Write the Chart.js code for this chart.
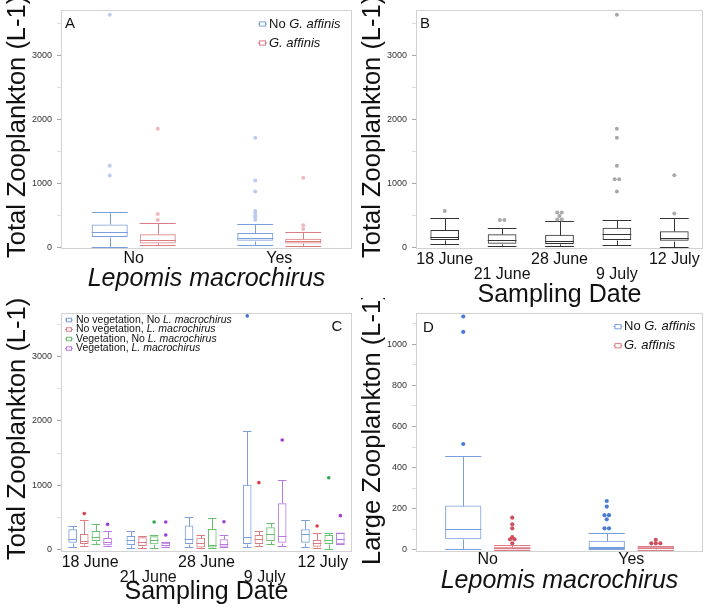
<!DOCTYPE html>
<html>
<head>
<meta charset="utf-8">
<script src="https://cdn.jsdelivr.net/npm/chart.js@4.4.1/dist/chart.umd.min.js"></script>
<style>
  html, body { margin: 0; padding: 0; background: #fff; }
  body { width: 709px; height: 608px; position: relative; overflow: hidden; }
  canvas { position: absolute; }
</style>
</head>
<body>
<canvas id="chartA" width="360" height="305" style="left:0;top:0"></canvas>
<canvas id="chartB" width="354" height="310" style="left:355px;top:0"></canvas>
<canvas id="chartC" width="360" height="310" style="left:0;top:298px"></canvas>
<canvas id="chartD" width="354" height="310" style="left:355px;top:298px"></canvas>
<script>
// five-number summaries: [lower whisker, Q1, median, Q3, upper whisker]
const fishCats = ['No', 'Yes'];
const dates = ['18 June', '21 June', '28 June', '9 July', '12 July'];

// A - total zooplankton by L. macrochirus, split by G. affinis
const aNoGaffinis = [[0, 156, 229, 354, 552], [36, 99, 135, 219, 359]];
const aNoGaffinisOut = [[1120, 1270, 3636], [425, 465, 495, 535, 565, 870, 1040, 1710]];
const aGaffinis = [[31, 57, 104, 198, 375], [21, 57, 94, 130, 240]];
const aGaffinisOut = [[422, 516, 1850], [281, 339, 1083]];

// B - total zooplankton by date
const bAll = [[47, 109, 151, 266, 458], [21, 52, 104, 198, 297], [21, 47, 94, 193, 401], [31, 109, 198, 302, 417], [5, 99, 135, 245, 453]];
const bAllOut = [[562], [422, 422], [432, 432, 484, 542, 542], [870, 1060, 1060, 1270, 1710, 1850, 3636], [526, 1125]];

// C - total zooplankton by date and treatment
const cNoVegNoLm = [[42, 104, 166, 312, 358], [26, 67, 151, 208, 291], [42, 83, 161, 369, 498], [31, 83, 197, 1006, 1837], [31, 104, 233, 311, 451]];
const cNoVegNoLmOut = [[], [], [], [3636], []];
const cNoVegLm = [[52, 83, 130, 239, 457], [16, 52, 119, 187, 213], [20, 30, 95, 180, 225], [57, 83, 166, 223, 285], [26, 41, 93, 145, 249]];
const cNoVegLmOut = [[556], [], [], [1038], [363]];
const cVegNoLm = [[78, 130, 197, 286, 389], [26, 78, 151, 203, 223], [20, 30, 60, 315, 495], [83, 130, 239, 342, 415], [5, 83, 150, 223, 260]];
const cVegNoLmOut = [[], [426], [], [], [1115]];
const cVegLm = [[52, 62, 109, 177, 286], [31, 47, 73, 104, 110], [31, 41, 88, 155, 228], [57, 104, 207, 716, 1074], [78, 78, 155, 260, 260]];
const cVegLmOut = [[389], [223, 426], [430], [1702], [524]];

// D - large zooplankton
const dNoGaffinis = [[3, 52, 100, 216, 457], [3, 5, 16, 45, 81]];
const dNoGaffinisOut = [[515, 1060, 1135], [105, 105, 149, 169, 169, 211, 238]];
const dGaffinis = [[0, 0, 8, 16, 24], [0, 3, 8, 16, 19]];
const dGaffinisOut = [[32, 52, 52, 62, 105, 125, 157], [32, 32, 32, 49]];

// y ticks (empty label = minor tick)
const totalTicks = [0, 500, 1000, 1500, 2000, 2500, 3000, 3500];
const totalTickLabels = ['0', '', '1000', '', '2000', '', '3000', ''];
const largeTicks = [0, 100, 200, 300, 400, 500, 600, 700, 800, 900, 1000, 1100];
const largeTickLabels = ['0', '', '200', '', '400', '', '600', '', '800', '', '1000', ''];

const FONT = "'Liberation Sans', Arial, Helvetica, sans-serif";
const BLUE = '#7a9fdc', RED = '#dc7e85', GREEN = '#6cc072', PURPLE = '#b87ae0';

const boxPlugin = {
  id: 'boxes',
  afterDatasetsDraw(chart) {
    const ctx = chart.ctx;
    const y = chart.scales.y;
    chart.data.datasets.forEach((ds, i) => {
      const meta = chart.getDatasetMeta(i);
      meta.data.forEach((bar, j) => {
        const s = ds.stats[j];
        const x = Math.round(bar.x) + 0.5;
        const half = bar.width / 2;
        const py = v => Math.round(y.getPixelForValue(v)) + 0.5;
        ctx.save();
        ctx.strokeStyle = ds.borderColor;
        ctx.lineWidth = 1;
        ctx.beginPath();
        ctx.moveTo(x, py(s[3])); ctx.lineTo(x, py(s[4]));
        ctx.moveTo(x, py(s[1])); ctx.lineTo(x, py(s[0]));
        ctx.moveTo(bar.x - half, py(s[4])); ctx.lineTo(bar.x + half, py(s[4]));
        ctx.moveTo(bar.x - half, py(s[0])); ctx.lineTo(bar.x + half, py(s[0]));
        ctx.moveTo(bar.x - half, py(s[2])); ctx.lineTo(bar.x + half, py(s[2]));
        ctx.stroke();
        // outliers, repeated values sit side by side
        const outs = ds.outliers[j] || [];
        const counts = {}, seen = {};
        outs.forEach(v => counts[v] = (counts[v] || 0) + 1);
        ctx.fillStyle = ds.outlierColor;
        outs.forEach(v => {
          seen[v] = (seen[v] || 0) + 1;
          const dx = (seen[v] - 1 - (counts[v] - 1) / 2) * 4.5;
          ctx.beginPath();
          ctx.arc(bar.x + dx, y.getPixelForValue(v), ds.outlierRadius, 0, Math.PI * 2);
          ctx.fill();
        });
        ctx.restore();
      });
    });
  }
};

const decorPlugin = {
  id: 'decor',
  afterDraw(chart, args, opts) {
    const ctx = chart.ctx;
    const a = chart.chartArea;
    ctx.save();
    ctx.strokeStyle = '#d2d2d2';
    ctx.lineWidth = 1;
    ctx.strokeRect(Math.round(a.left) + 0.5, Math.round(a.top) + 0.5, Math.round(a.right - a.left) - 1, Math.round(a.bottom - a.top) - 1);
    // y axis title, running up from its start point
    ctx.save();
    ctx.translate(opts.yTitleX, opts.yTitleY);
    ctx.rotate(-Math.PI / 2);
    ctx.fillStyle = '#111';
    ctx.font = '25.5px ' + FONT;
    ctx.textAlign = 'left';
    ctx.textBaseline = 'alphabetic';
    ctx.fillText(opts.yTitle, 0, 0);
    ctx.restore();
    // panel letter
    ctx.fillStyle = '#111';
    ctx.font = '15px ' + FONT;
    ctx.textBaseline = 'middle';
    ctx.textAlign = opts.letterAlign || 'left';
    ctx.fillText(opts.letter, opts.letterX, opts.letterY);
    // legend
    const lg = opts.legend;
    ctx.textAlign = 'left';
    lg.items.forEach((it, k) => {
      const ly = lg.rowY[k];
      const ix = lg.iconX;
      const w = lg.iconW;
      ctx.strokeStyle = it.color;
      ctx.beginPath();
      ctx.moveTo(ix - w / 2 - 1.5, ly); ctx.lineTo(ix + w / 2 + 1.5, ly);
      ctx.stroke();
      ctx.fillStyle = '#fff';
      ctx.fillRect(ix - w / 2, ly - w * 0.35, w, w * 0.7);
      ctx.strokeRect(ix - w / 2, ly - w * 0.35, w, w * 0.7);
      let tx = lg.textX;
      ctx.fillStyle = '#111';
      it.parts.forEach(p => {
        ctx.font = (p[1] ? 'italic ' : '') + lg.size + 'px ' + FONT;
        ctx.fillText(p[0], tx, ly);
        tx += ctx.measureText(p[0]).width;
      });
    });
    ctx.restore();
  }
};

function makeChart(id, cfg) {
  return new Chart(document.getElementById(id), {
    type: 'bar',
    data: {
      labels: cfg.labels,
      datasets: cfg.series.map(s => ({
        data: s.stats.map(v => [v[1], v[3]]),
        stats: s.stats,
        outliers: s.out,
        outlierColor: s.outColor,
        outlierRadius: cfg.pointR,
        borderColor: s.color,
        backgroundColor: 'rgba(255,255,255,0)',
        borderWidth: 1,
        borderSkipped: false,
        categoryPercentage: cfg.catPct,
        barPercentage: cfg.barPct
      }))
    },
    plugins: [boxPlugin, decorPlugin],
    options: {
      responsive: false,
      animation: false,
      devicePixelRatio: 1,
      layout: { padding: { top: cfg.padTop, right: cfg.padRight, left: 0, bottom: 0 } },
      plugins: {
        legend: { display: false },
        tooltip: { enabled: false },
        decor: cfg.decor
      },
      scales: {
        x: {
          grid: { display: false, drawTicks: false },
          border: { display: false },
          ticks: {
            autoSkip: false, maxRotation: 0, minRotation: 0,
            padding: cfg.xPad, color: '#111',
            font: { family: FONT, size: 16, lineHeight: 0.94 }
          },
          title: {
            display: true, text: cfg.xTitle, color: '#111',
            font: { family: FONT, size: 25, style: cfg.xItalic ? 'italic' : 'normal', lineHeight: 1.2 },
            padding: { top: 0, bottom: cfg.xTitlePad }
          },
          afterFit(scale) { scale.height = cfg.xHeight; }
        },
        y: {
          min: cfg.yMin, max: cfg.yMax,
          grid: {
            drawOnChartArea: false, drawTicks: true, tickLength: 4,
            tickColor: c => cfg.tickLabels[c.index] ? '#a8a8a8' : '#dddddd'
          },
          border: { display: false },
          ticks: {
            padding: 5, color: '#333',
            font: { family: FONT, size: 9 },
            callback: (v, i) => cfg.tickLabels[i]
          },
          afterBuildTicks(scale) { scale.ticks = cfg.ticks.map(v => ({ value: v })); },
          title: { display: false },
          afterFit(scale) { scale.width = 61; }
        }
      }
    }
  });
}

const stagger = dates.map((d, i) => i % 2 ? ['', d] : d);

makeChart('chartA', {
  labels: fishCats,
  series: [
    { stats: aNoGaffinis, out: aNoGaffinisOut, color: BLUE, outColor: '#bccbf0' },
    { stats: aGaffinis, out: aGaffinisOut, color: RED, outColor: '#f0b9bd' }
  ],
  catPct: 0.66, barPct: 0.75, pointR: 2,
  padTop: 10, padRight: 8, xHeight: 56, xPad: 2, xTitlePad: 11,
  xTitle: 'Lepomis macrochirus', xItalic: true,
  yMin: -31, yMax: 3703,
  ticks: totalTicks, tickLabels: totalTickLabels,
  decor: {
    yTitle: 'Total Zooplankton (L-1)', yTitleX: 24.5, yTitleY: 258,
    letter: 'A', letterX: 65, letterY: 24,
    legend: { iconX: 262.5, iconW: 6, textX: 269, size: 13, rowY: [24, 43],
      items: [{ color: BLUE, parts: [['No ', false], ['G. affinis', true]] },
              { color: RED, parts: [['G. affinis', true]] }] }
  }
});

makeChart('chartB', {
  labels: stagger,
  series: [{ stats: bAll, out: bAllOut, color: '#333333', outColor: '#a9a9a9' }],
  catPct: 0.5, barPct: 1, pointR: 2,
  padTop: 10, padRight: 6, xHeight: 61, xPad: 3, xTitlePad: 0,
  xTitle: 'Sampling Date', xItalic: false,
  yMin: -31, yMax: 3703,
  ticks: totalTicks, tickLabels: totalTickLabels,
  decor: {
    yTitle: 'Total Zooplankton (L-1)', yTitleX: 24.5, yTitleY: 258,
    letter: 'B', letterX: 65, letterY: 24, legend: { items: [], rowY: [] }
  }
});

makeChart('chartC', {
  labels: stagger,
  series: [
    { stats: cNoVegNoLm, out: cNoVegNoLmOut, color: BLUE, outColor: '#3f73d9' },
    { stats: cNoVegLm, out: cNoVegLmOut, color: RED, outColor: '#d9414b' },
    { stats: cVegNoLm, out: cVegNoLmOut, color: GREEN, outColor: '#2fa84a' },
    { stats: cVegLm, out: cVegLmOut, color: PURPLE, outColor: '#9a3fd9' }
  ],
  catPct: 0.8, barPct: 0.74, pointR: 1.8,
  padTop: 15, padRight: 8, xHeight: 56, xPad: 3, xTitlePad: 1,
  xTitle: 'Sampling Date', xItalic: false,
  yMin: -42, yMax: 3681,
  ticks: totalTicks, tickLabels: totalTickLabels,
  decor: {
    yTitle: 'Total Zooplankton (L-1)', yTitleX: 24.5, yTitleY: 262,
    letter: 'C', letterX: 337, letterY: 29, letterAlign: 'center',
    legend: { iconX: 69, iconW: 5, textX: 76, size: 10.5, rowY: [22, 31.5, 41, 50.5],
      items: [{ color: BLUE, parts: [['No vegetation, No ', false], ['L. macrochirus', true]] },
              { color: RED, parts: [['No vegetation, ', false], ['L. macrochirus', true]] },
              { color: GREEN, parts: [['Vegetation, No ', false], ['L. macrochirus', true]] },
              { color: PURPLE, parts: [['Vegetation, ', false], ['L. macrochirus', true]] }] }
  }
});

makeChart('chartD', {
  labels: fishCats,
  series: [
    { stats: dNoGaffinis, out: dNoGaffinisOut, color: BLUE, outColor: '#4a7bd6' },
    { stats: dGaffinis, out: dGaffinisOut, color: RED, outColor: '#cf4f5d' }
  ],
  catPct: 0.683, barPct: 0.74, pointR: 2.1,
  padTop: 15, padRight: 6, xHeight: 56, xPad: 0, xTitlePad: 12,
  xTitle: 'Lepomis macrochirus', xItalic: true,
  yMin: -10, yMax: 1152,
  ticks: largeTicks, tickLabels: largeTickLabels,
  decor: {
    yTitle: 'Large Zooplankton (L-1)', yTitleX: 24.5, yTitleY: 267,
    letter: 'D', letterX: 68, letterY: 30,
    legend: { iconX: 263, iconW: 6, textX: 269, size: 13, rowY: [28.7, 47.7],
      items: [{ color: BLUE, parts: [['No ', false], ['G. affinis', true]] },
              { color: RED, parts: [['G. affinis', true]] }] }
  }
});
</script>
</body>
</html>
